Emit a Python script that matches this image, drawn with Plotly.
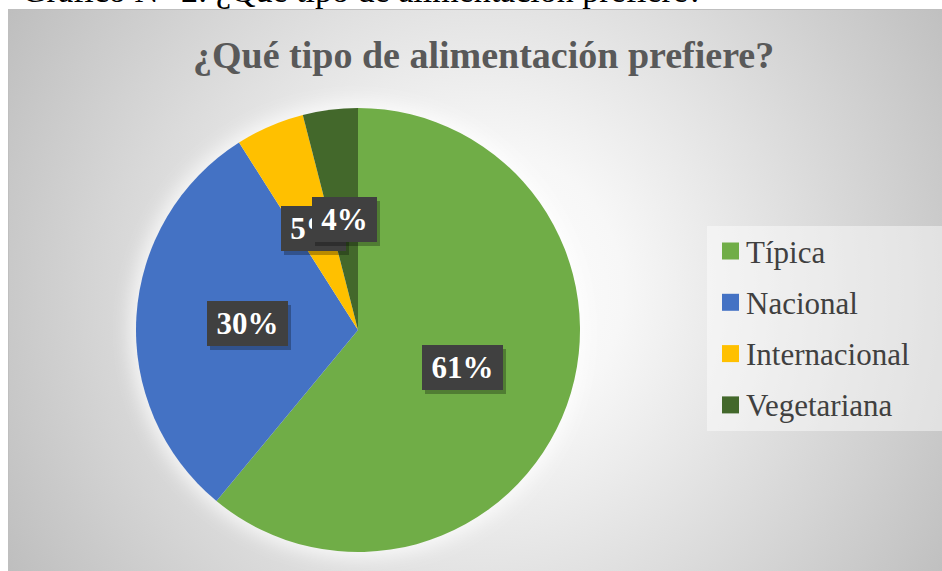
import base64
import math
import plotly.graph_objects as go

# ---- data -------------------------------------------------------------
categories = ["Típica", "Nacional", "Internacional", "Vegetariana"]
percentages = [61, 30, 5, 4]
colors = ["#70AD47", "#4472C4", "#FFC000", "#43682B"]

title_text = "¿Qué tipo de alimentación prefiere?"
caption_text = "Gráfico N° 2: ¿Qué tipo de alimentación prefiere?"

# ---- geometry ---------------------------------------------------------
W, H = 942, 571
CX, CY, R = 358, 330, 222          # pie centre / radius in pixels
SERIF = "Liberation Serif, Times New Roman, serif"


def px_to_paper(x, y):
    return x / W, 1 - y / H


# background: chart area with radial gradient, soft glow behind the pie
bg_svg = f"""<svg xmlns='http://www.w3.org/2000/svg' width='{W}' height='{H}' viewBox='0 0 {W} {H}'>
<defs>
<radialGradient id='g' gradientUnits='userSpaceOnUse' cx='483' cy='290' r='560'>
<stop offset='0' stop-color='#ffffff'/>
<stop offset='0.25' stop-color='#f7f7f7'/>
<stop offset='1' stop-color='#bdbdbd'/>
</radialGradient>
<filter id='b' x='-30%' y='-30%' width='160%' height='160%'><feGaussianBlur stdDeviation='9'/></filter>
</defs>
<rect x='0' y='0' width='{W}' height='{H}' fill='#ffffff'/>
<rect x='8.5' y='9.5' width='{W + 20}' height='{H + 20}' fill='url(#g)' stroke='#bfbfbf' stroke-width='1'/>
<circle cx='{CX}' cy='{CY}' r='{R + 6}' fill='#ffffff' fill-opacity='0.75' filter='url(#b)'/>
</svg>"""
bg_uri = "data:image/svg+xml;base64," + base64.b64encode(bg_svg.encode("utf-8")).decode()

x0, y1 = px_to_paper(CX - R, CY - R)
x1, y0 = px_to_paper(CX + R, CY + R)

fig = go.Figure(
    go.Pie(
        labels=categories,
        values=percentages,
        marker=dict(colors=colors, line=dict(width=0)),
        sort=False,
        direction="clockwise",
        rotation=0,
        textinfo="none",
        hoverinfo="skip",
        showlegend=False,
        domain=dict(x=[x0, x1], y=[y0, y1]),
    )
)

annotations = []
shapes = []

# caption line of the surrounding document (clipped at the top edge)
annotations.append(dict(
    text=caption_text, xref="paper", yref="paper",
    x=20 / W, y=1 - 11 / H, xanchor="left", yanchor="bottom",
    showarrow=False, font=dict(family=SERIF, size=34, color="#000000"),
))

# chart title
annotations.append(dict(
    text=f"<b>{title_text}</b>", xref="paper", yref="paper",
    x=483 / W, y=1 - 55 / H, xanchor="center", yanchor="middle",
    showarrow=False, font=dict(family=SERIF, size=38, color="#595959"),
))

# data labels: dark boxes at half radius along each slice's mid-angle
total = sum(percentages)
cum = 0.0
for v in percentages:
    mid = (cum + v / 2) / total * 2 * math.pi
    cum += v
    lx = CX + 0.5 * R * math.sin(mid)
    ly = CY - 0.5 * R * math.cos(mid)
    px, py = px_to_paper(lx, ly)
    label = f"{round(v / total * 100)}%"
    bw = 16 * len(label) + 33
    common = dict(xref="paper", yref="paper", x=px, y=py,
                  xanchor="center", yanchor="middle", showarrow=False,
                  width=bw, height=45, borderpad=0, borderwidth=0)
    annotations.append(dict(text=" ", bgcolor="rgba(0,0,0,0.28)",
                            xshift=3, yshift=-4, **common))
    annotations.append(dict(text=f"<b>{label}</b>", bgcolor="#404040",
                            font=dict(family=SERIF, size=31, color="#ffffff"),
                            **common))

# legend panel
shapes.append(dict(type="rect", xref="paper", yref="paper",
                   x0=707 / W, x1=1.0, y0=1 - 431 / H, y1=1 - 226 / H,
                   fillcolor="rgba(255,255,255,0.45)", line=dict(width=0),
                   layer="below"))
for i, (name, col) in enumerate(zip(categories, colors)):
    cy = 251 + 51.3 * i
    shapes.append(dict(type="rect", xref="paper", yref="paper",
                       x0=722 / W, x1=739 / W,
                       y0=1 - (cy + 8.5) / H, y1=1 - (cy - 8.5) / H,
                       fillcolor=col, line=dict(width=0)))
    annotations.append(dict(
        text=name, xref="paper", yref="paper",
        x=744 / W, y=1 - (cy + 1) / H, xanchor="left", yanchor="middle",
        showarrow=False, font=dict(family=SERIF, size=31, color="#404040"),
    ))

fig.update_layout(
    width=W, height=H,
    margin=dict(l=0, r=0, t=0, b=0),
    paper_bgcolor="#ffffff",
    images=[dict(source=bg_uri, xref="paper", yref="paper", x=0, y=1,
                 sizex=1, sizey=1, sizing="stretch", xanchor="left",
                 yanchor="top", layer="below")],
    annotations=annotations,
    shapes=shapes,
)

fig.write_html("out.html")
